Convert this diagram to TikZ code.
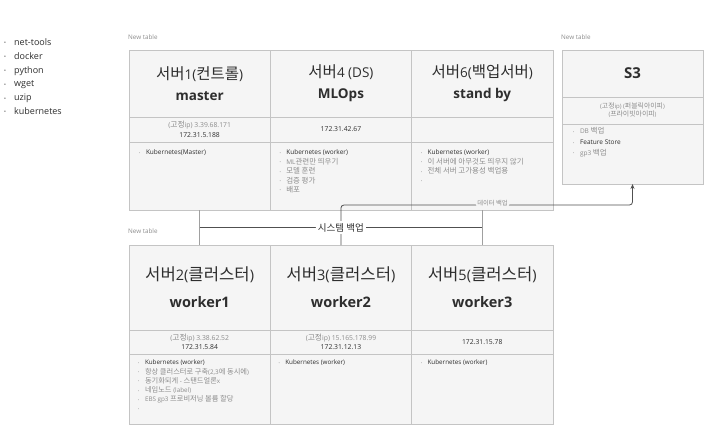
\documentclass[tikz,border=0pt]{standalone}
\usepackage{fontspec}
\setmainfont{Open Sans}
\newfontfamily\kr[Scale=1.15]{Noto Sans CJK KR}
\usetikzlibrary{arrows.meta,calc,positioning}
\definecolor{cellbg}{HTML}{F5F5F5}
\definecolor{cellline}{HTML}{C4C4C4}
\definecolor{txtdark}{HTML}{2E2E2E}
\definecolor{txtgray}{HTML}{8C8C8C}
\definecolor{linkgray}{HTML}{505050}
\definecolor{postgray}{HTML}{A0A0A0}
\newcommand{\bul}[1][6.8pt]{\makebox[#1][l]{\raisebox{.15ex}{\scalebox{.55}{\textbullet}}}}
\newcommand{\di}[1]{{\color{txtgray}\bul\color{txtdark}#1}}
\newcommand{\gi}[1]{{\color{txtgray}\bul #1}}

\begin{document}
\begin{tikzpicture}[x=1pt, y=-1pt,
    cell/.style={draw=cellline, fill=cellbg, line width=0.8pt, anchor=north west,
      inner sep=0pt, outer sep=0pt, minimum width=141.3pt, align=center, text=txtdark},
    head/.style={cell, font=\fontsize{13.5}{21}\selectfont},
    lowhead/.style={cell, font=\fontsize{14.5}{27}\selectfont},
    ipcell/.style={cell, font=\fontsize{6.8}{9.5}\selectfont},
    items/.style={anchor=north west, inner sep=0pt, align=left,
      font=\fontsize{6.5}{9.4}\selectfont, text=txtdark},
    tablename/.style={anchor=west, inner sep=0pt, font=\fontsize{6.3}{6.3}\selectfont, text=txtgray},
    post/.style={draw=postgray, line width=1.3pt},
    link/.style={draw=linkgray, line width=0.8pt, rounded corners=3pt}]
  \useasboundingbox (0,0) rectangle (710,442);

  % installed tools
  \node[items, font=\fontsize{9}{13.8}\selectfont] (tools) at (4,38.5)
    {\bul[10pt]net-tools\\\bul[10pt]docker\\\bul[10pt]python\\\bul[10pt]wget\\\bul[10pt]uzip\\\bul[10pt]kubernetes};

  % upper table
  \node[tablename] (name1) at (128,37) {New table};
  \node[head, minimum height=67pt] (hd1) at (129,50) {{\kr 서버}1({\kr 컨트롤})\\\textbf{master}};
  \node[head, minimum height=67pt] (hd4) at (hd1.north east) {{\kr 서버}4 (DS)\\\textbf{MLOps}};
  \node[head, minimum height=67pt] (hd6) at (hd4.north east) {{\kr 서버}6({\kr 백업서버})\\\textbf{stand by}};
  \node[ipcell, minimum height=25pt] (ip1) at (hd1.south west) {{\color{txtgray}({\kr 고정}ip) 3.39.68.171}\\172.31.5.188};
  \node[ipcell, minimum height=25pt] (ip4) at (hd4.south west) {172.31.42.67};
  \node[ipcell, minimum height=25pt] (ip6) at (hd6.south west) {};
  \node[cell, minimum height=68pt] (ls1) at (ip1.south west) {};
  \node[cell, minimum height=68pt] (ls4) at (ip4.south west) {};
  \node[cell, minimum height=68pt] (ls6) at (ip6.south west) {};
  \node[items] (tx1) at ([shift={(10,7.7)}]ls1.north west) {\di{Kubernetes(Master)}};
  \node[items] (tx4) at ([shift={(9,7.7)}]ls4.north west)
    {\di{Kubernetes (worker)}\\\gi{ML{\kr 관련만 띄우기}}\\\gi{\kr 모델 훈련}\\\gi{\kr 검증 평가}\\\gi{\kr 배포}};
  \node[items] (tx6) at ([shift={(9,7.7)}]ls6.north west)
    {\di{Kubernetes (worker)}\\\gi{\kr 이 서버에 아무것도 띄우지 않기}\\\gi{\kr 전체 서버 고가용성 백업용}\\\gi{}};

  % S3
  \node[tablename] (name3) at (561,37) {New table};
  \node[cell, minimum width=141pt, minimum height=47pt, font=\fontsize{15}{15}\selectfont] (hds3) at (562,50) {\textbf{S3}};
  \node[cell, minimum width=141pt, minimum height=27pt, font=\fontsize{6}{8}\selectfont, text=txtgray] (ips3) at (hds3.south west)
    {({\kr 고정}ip) ({\kr 퍼블릭아이피})\\({\kr 프라이빗아이피})};
  \node[cell, minimum width=141pt, minimum height=60pt] (lss3) at (ips3.south west) {};
  \node[items, font=\fontsize{6.5}{10.8}\selectfont] (txs3) at ([shift={(11,3.5)}]lss3.north west)
    {\gi{DB {\kr 백업}}\\\di{Feature Store}\\\gi{gp3 {\kr 백업}}};

  % lower table
  \node[tablename] (name2) at (128,231) {New table};
  \node[lowhead, minimum height=85pt] (hd2) at (129,245) {{\kr 서버}2({\kr 클러스터})\\\textbf{worker1}};
  \node[lowhead, minimum height=85pt] (hd3) at (hd2.north east) {{\kr 서버}3({\kr 클러스터})\\\textbf{worker2}};
  \node[lowhead, minimum height=85pt] (hd5) at (hd3.north east) {{\kr 서버}5({\kr 클러스터})\\\textbf{worker3}};
  \node[ipcell, minimum height=24pt, font=\fontsize{6.8}{9}\selectfont] (ip2) at (hd2.south west) {{\color{txtgray}({\kr 고정}ip) 3.38.62.52}\\172.31.5.84};
  \node[ipcell, minimum height=24pt, font=\fontsize{6.8}{9}\selectfont] (ip3) at (hd3.south west) {{\color{txtgray}({\kr 고정}ip) 15.165.178.99}\\172.31.12.13};
  \node[ipcell, minimum height=24pt] (ip5) at (hd5.south west) {172.31.15.78};
  \node[cell, minimum height=70pt] (ls2) at (ip2.south west) {};
  \node[cell, minimum height=70pt] (ls3) at (ip3.south west) {};
  \node[cell, minimum height=70pt] (ls5) at (ip5.south west) {};
  \node[items, font=\fontsize{6.3}{9.2}\selectfont] (tx2) at ([shift={(9,6)}]ls2.north west)
    {\di{Kubernetes (worker)}\\\gi{{\kr 항상 클러스터로 구축}(2,3{\kr 에 동시에})}\\\gi{{\kr 동기화되게} - {\kr 스탠드얼론}x}\\\gi{{\kr 네임노드} (label)}\\\gi{EBS gp3 {\kr 프로비저닝 볼륨 할당}}\\\gi{}};
  \node[items, font=\fontsize{6.3}{9.2}\selectfont] (tx3) at ([shift={(8,6)}]ls3.north west) {\di{Kubernetes (worker)}};
  \node[items, font=\fontsize{6.3}{9.2}\selectfont] (tx5) at ([shift={(9,6)}]ls5.north west) {\di{Kubernetes (worker)}};

  % connectors
  \draw[post] (ls1.south) -- (hd2.north);
  \draw[post] (ls6.south) -- (hd5.north);
  \draw[link, -{Stealth[length=5pt,width=4pt]}] (hd3.north) -- ++(0,-40)
    -| node[pos=0.26, fill=cellbg, inner sep=1.5pt, yshift=2pt, font=\fontsize{5.5}{5.5}\selectfont, text=txtgray] {\kr 데이터 백업} (lss3.south);
  \coordinate (sb1) at ($(ls1.south)!.5!(hd2.north)$);
  \coordinate (sb6) at ($(ls6.south)!.5!(hd5.north)$);
  \draw[link] (sb1) -- node[fill=white, inner sep=2pt, font=\fontsize{8.3}{8.3}\selectfont, text=txtdark] {\kr 시스템 백업} (sb6);
\end{tikzpicture}
\end{document}
